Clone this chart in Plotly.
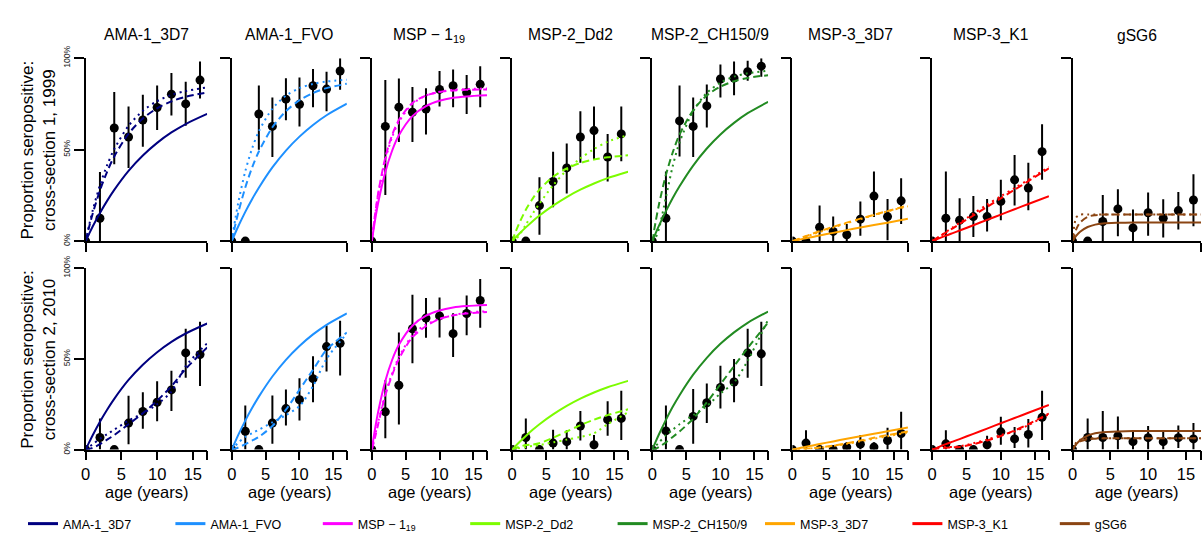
import plotly.graph_objects as go

# ---------------------------------------------------------------- data
PANEL_TITLES = ["AMA-1_3D7", "AMA-1_FVO", "MSP − 1<sub>19</sub>", "MSP-2_Dd2",
                "MSP-2_CH150/9", "MSP-3_3D7", "MSP-3_K1", "gSG6"]
LEGEND_NAMES = PANEL_TITLES
COLORS = ["#000080", "#1E90FF", "#FF00FF", "#7CFC00",
          "#228B22", "#FFA500", "#FF0000", "#8B4513"]
ROW_TITLES = ["Proportion seropositive:<br>cross-section 1, 1999",
              "Proportion seropositive:<br>cross-section 2, 2010"]

AGE = [0, 2, 4, 6, 8, 10, 12, 14, 16]
CURVE_AGE = [0, 0.5, 1, 2, 3, 4, 6, 8, 10, 12, 14, 17]

# observed seroprevalence by age group, cross-section 1 (one row per antigen)
CS1_PROP = [
    [0, 0.125, 0.618, 0.569, 0.662, 0.730, 0.803, 0.750, 0.880],
    [0, 0.000, 0.695, 0.627, 0.776, 0.748, 0.849, 0.831, 0.930],
    [0, 0.627, 0.732, 0.704, 0.722, 0.829, 0.849, 0.812, 0.857],
    [0, 0.000, 0.194, 0.326, 0.400, 0.569, 0.604, 0.460, 0.586],
    [0, 0.125, 0.657, 0.627, 0.739, 0.886, 0.891, 0.926, 0.956],
    [0, 0.000, 0.076, 0.053, 0.035, 0.120, 0.246, 0.134, 0.220],
    [0, 0.125, 0.114, 0.134, 0.134, 0.217, 0.335, 0.290, 0.489],
    [0, 0.000, 0.107, 0.176, 0.072, 0.155, 0.125, 0.167, 0.225],
]
CS1_LOW = [
    [0, 0.000, 0.420, 0.400, 0.516, 0.607, 0.687, 0.630, 0.780],
    [0, 0.000, 0.500, 0.460, 0.660, 0.627, 0.732, 0.710, 0.827],
    [0, 0.252, 0.542, 0.542, 0.583, 0.736, 0.732, 0.695, 0.732],
    [0, 0.000, 0.035, 0.185, 0.260, 0.428, 0.445, 0.326, 0.437],
    [0, 0.000, 0.463, 0.460, 0.621, 0.785, 0.797, 0.877, 0.898],
    [0, 0.000, 0.000, 0.000, 0.000, 0.030, 0.132, 0.005, 0.093],
    [0, 0.000, 0.000, 0.023, 0.053, 0.114, 0.195, 0.169, 0.336],
    [0, 0.000, 0.000, 0.026, 0.000, 0.030, 0.020, 0.063, 0.081],
]
CS1_HIGH = [
    [0, 0.378, 0.815, 0.736, 0.800, 0.850, 0.919, 0.871, 0.982],
    [0, 0.000, 0.850, 0.785, 0.890, 0.894, 0.940, 0.926, 1.000],
    [0, 0.880, 0.889, 0.842, 0.836, 0.930, 0.938, 0.908, 0.956],
    [0, 0.000, 0.349, 0.489, 0.533, 0.710, 0.736, 0.586, 0.736],
    [0, 0.380, 0.850, 0.785, 0.856, 0.965, 0.982, 0.986, 1.000],
    [0, 0.000, 0.194, 0.134, 0.093, 0.217, 0.380, 0.230, 0.343],
    [0, 0.380, 0.234, 0.246, 0.230, 0.336, 0.470, 0.428, 0.639],
    [0, 0.000, 0.252, 0.283, 0.173, 0.266, 0.229, 0.269, 0.366],
]

# observed seroprevalence by age group, cross-section 2
CS2_PROP = [
    [0, 0.067, 0.000, 0.146, 0.210, 0.261, 0.329, 0.533, 0.524],
    [0, 0.101, 0.000, 0.147, 0.226, 0.275, 0.391, 0.568, 0.586],
    [0, 0.208, 0.355, 0.666, 0.725, 0.737, 0.639, 0.750, 0.822],
    [0, 0.067, 0.000, 0.036, 0.044, 0.130, 0.027, 0.165, 0.172],
    [0, 0.103, 0.000, 0.183, 0.258, 0.343, 0.373, 0.533, 0.528],
    [0, 0.036, 0.000, 0.000, 0.014, 0.030, 0.014, 0.050, 0.089],
    [0, 0.032, 0.000, 0.000, 0.027, 0.098, 0.059, 0.083, 0.178],
    [0, 0.067, 0.067, 0.076, 0.044, 0.066, 0.044, 0.066, 0.059],
]
CS2_LOW = [
    [0, 0.000, 0.000, 0.030, 0.115, 0.156, 0.213, 0.396, 0.350],
    [0, 0.000, 0.000, 0.032, 0.133, 0.160, 0.261, 0.430, 0.409],
    [0, 0.062, 0.139, 0.476, 0.616, 0.618, 0.510, 0.630, 0.671],
    [0, 0.000, 0.000, 0.000, 0.000, 0.050, 0.000, 0.076, 0.053],
    [0, 0.000, 0.000, 0.032, 0.147, 0.226, 0.261, 0.396, 0.350],
    [0, 0.000, 0.000, 0.000, 0.000, 0.000, 0.000, 0.000, 0.000],
    [0, 0.000, 0.000, 0.000, 0.000, 0.027, 0.009, 0.012, 0.053],
    [0, 0.000, 0.000, 0.000, 0.000, 0.000, 0.000, 0.009, 0.000],
]
CS2_HIGH = [
    [0, 0.172, 0.000, 0.297, 0.316, 0.377, 0.435, 0.666, 0.705],
    [0, 0.243, 0.000, 0.298, 0.332, 0.394, 0.515, 0.684, 0.710],
    [0, 0.382, 0.645, 0.853, 0.835, 0.838, 0.751, 0.849, 0.941],
    [0, 0.172, 0.000, 0.110, 0.107, 0.213, 0.080, 0.266, 0.325],
    [0, 0.243, 0.000, 0.334, 0.364, 0.462, 0.500, 0.666, 0.705],
    [0, 0.107, 0.000, 0.000, 0.040, 0.080, 0.040, 0.121, 0.208],
    [0, 0.107, 0.000, 0.000, 0.076, 0.181, 0.124, 0.169, 0.325],
    [0, 0.172, 0.213, 0.183, 0.107, 0.130, 0.107, 0.133, 0.147],
]

# fitted seroconversion curves evaluated at CURVE_AGE
FIT_SOLID = [  # common reference fit, drawn in both cross-sections
    [0, 0.041, 0.081, 0.154, 0.220, 0.280, 0.384, 0.468, 0.537, 0.594, 0.640, 0.695],
    [0, 0.043, 0.084, 0.160, 0.229, 0.292, 0.403, 0.495, 0.571, 0.635, 0.688, 0.751],
    [0, 0.118, 0.219, 0.378, 0.494, 0.578, 0.683, 0.738, 0.767, 0.783, 0.791, 0.797],
    [0, 0.020, 0.039, 0.075, 0.109, 0.140, 0.194, 0.241, 0.281, 0.315, 0.344, 0.379],
    [0, 0.044, 0.086, 0.164, 0.236, 0.300, 0.413, 0.506, 0.583, 0.646, 0.699, 0.761],
    [0, 0.004, 0.008, 0.016, 0.023, 0.031, 0.045, 0.060, 0.074, 0.088, 0.101, 0.122],
    [0, 0.007, 0.015, 0.030, 0.044, 0.058, 0.087, 0.116, 0.145, 0.174, 0.203, 0.246],
    [0, 0.030, 0.051, 0.077, 0.090, 0.096, 0.100, 0.102, 0.102, 0.102, 0.102, 0.102],
]
CS1_DASHED = [
    [0, 0.080, 0.152, 0.277, 0.379, 0.463, 0.587, 0.670, 0.726, 0.764, 0.789, 0.812],
    [0, 0.085, 0.161, 0.293, 0.402, 0.490, 0.622, 0.710, 0.770, 0.809, 0.836, 0.860],
    [0, 0.150, 0.274, 0.457, 0.580, 0.662, 0.755, 0.796, 0.815, 0.823, 0.827, 0.829],
    [0, 0.050, 0.095, 0.171, 0.232, 0.281, 0.352, 0.397, 0.427, 0.446, 0.458, 0.469],
    [0, 0.108, 0.204, 0.362, 0.485, 0.582, 0.715, 0.796, 0.844, 0.874, 0.892, 0.907],
    [0, 0.007, 0.014, 0.028, 0.041, 0.054, 0.078, 0.101, 0.123, 0.144, 0.164, 0.195],
    [0, 0.012, 0.023, 0.047, 0.070, 0.094, 0.140, 0.187, 0.234, 0.281, 0.328, 0.398],
    [0, 0.066, 0.102, 0.133, 0.142, 0.145, 0.146, 0.146, 0.146, 0.146, 0.146, 0.146],
]
CS1_DOTTED = [
    [0, 0.090, 0.170, 0.306, 0.415, 0.503, 0.630, 0.712, 0.765, 0.799, 0.820, 0.840],
    [0, 0.116, 0.217, 0.382, 0.506, 0.600, 0.724, 0.795, 0.836, 0.859, 0.872, 0.882],
    [0, 0.144, 0.264, 0.444, 0.568, 0.652, 0.750, 0.795, 0.816, 0.826, 0.831, 0.834],
    [0, 0.010, 0.030, 0.090, 0.150, 0.205, 0.305, 0.388, 0.452, 0.503, 0.543, 0.580],
    [0, 0.020, 0.070, 0.240, 0.410, 0.540, 0.710, 0.810, 0.866, 0.899, 0.917, 0.932],
    [0, 0.006, 0.012, 0.025, 0.037, 0.050, 0.074, 0.098, 0.120, 0.142, 0.163, 0.190],
    [0, 0.012, 0.024, 0.050, 0.075, 0.100, 0.150, 0.200, 0.245, 0.290, 0.335, 0.405],
    [0, 0.130, 0.145, 0.146, 0.146, 0.146, 0.146, 0.146, 0.146, 0.146, 0.146, 0.146],
]
CS2_DASHED = [
    [0, 0.004, 0.010, 0.030, 0.055, 0.080, 0.140, 0.200, 0.270, 0.350, 0.445, 0.563],
    [0, 0.005, 0.012, 0.030, 0.050, 0.070, 0.130, 0.220, 0.330, 0.440, 0.550, 0.645],
    [0, 0.070, 0.150, 0.300, 0.410, 0.500, 0.620, 0.680, 0.720, 0.740, 0.750, 0.758],
    [0, 0.008, 0.015, 0.025, 0.028, 0.035, 0.065, 0.100, 0.135, 0.165, 0.190, 0.222],
    [0, 0.005, 0.015, 0.040, 0.070, 0.100, 0.170, 0.260, 0.360, 0.460, 0.560, 0.700],
    [0, 0.000, 0.002, 0.005, 0.008, 0.012, 0.022, 0.035, 0.050, 0.065, 0.080, 0.100],
    [0, 0.003, 0.006, 0.010, 0.012, 0.015, 0.030, 0.050, 0.075, 0.105, 0.140, 0.199],
    [0, 0.030, 0.045, 0.057, 0.060, 0.062, 0.062, 0.062, 0.062, 0.062, 0.062, 0.062],
]
CS2_DOTTED = [
    [0, 0.015, 0.030, 0.060, 0.085, 0.110, 0.160, 0.200, 0.250, 0.320, 0.460, 0.586],
    [0, 0.020, 0.040, 0.070, 0.090, 0.110, 0.150, 0.190, 0.240, 0.350, 0.500, 0.640],
    [0, 0.080, 0.160, 0.310, 0.420, 0.510, 0.630, 0.690, 0.720, 0.740, 0.755, 0.762],
    [0, 0.004, 0.008, 0.015, 0.020, 0.025, 0.040, 0.055, 0.070, 0.090, 0.140, 0.205],
    [0, 0.020, 0.040, 0.080, 0.110, 0.140, 0.190, 0.240, 0.310, 0.370, 0.490, 0.716],
    [0, 0.000, 0.001, 0.004, 0.007, 0.010, 0.020, 0.032, 0.046, 0.060, 0.074, 0.095],
    [0, 0.006, 0.012, 0.015, 0.015, 0.018, 0.035, 0.055, 0.080, 0.100, 0.135, 0.195],
    [0, 0.040, 0.055, 0.062, 0.063, 0.063, 0.063, 0.063, 0.063, 0.063, 0.063, 0.063],
]

# ---------------------------------------------------------------- layout
W, H = 1203, 539
FONT = "Liberation Sans, Arial, sans-serif"
PANEL_LEFT = [81, 227.7, 368.3, 509.3, 650, 790.7, 931, 1072]
PANEL_RIGHT = [203, 343.3, 484, 625.7, 766.3, 906.7, 1048.3, 1201]
ROW_BOTTOM = [236, 451.7]
ROW_TOP = [46.7, 264]
LINE_W = 1.6
TICK_STYLE = dict(ticks="outside", tickwidth=LINE_W, tickcolor="black")

SURVEYS = [
    (CS1_PROP, CS1_LOW, CS1_HIGH, CS1_DASHED, CS1_DOTTED),
    (CS2_PROP, CS2_LOW, CS2_HIGH, CS2_DASHED, CS2_DOTTED),
]

fig = go.Figure()
layout_axes = {}
annotations = []

for row, (prop_t, low_t, high_t, dash_t, dot_t) in enumerate(SURVEYS):
    for col in range(8):
        n = row * 8 + col + 1
        xname = "x" if n == 1 else f"x{n}"
        yname = "y" if n == 1 else f"y{n}"
        color = COLORS[col]
        prop, low, high = prop_t[col], low_t[col], high_t[col]

        # observed proportions with confidence intervals
        fig.add_trace(go.Scatter(
            x=AGE, y=prop, mode="markers",
            marker=dict(size=9, color="black", line=dict(width=0)),
            error_y=dict(type="data", symmetric=False,
                         array=[h - p for h, p in zip(high, prop)],
                         arrayminus=[p - l for p, l in zip(prop, low)],
                         color="black", thickness=2, width=0),
            xaxis=xname, yaxis=yname, showlegend=False, hoverinfo="skip"))

        # fitted curves: reference (solid), dashed and dotted alternatives
        for curve, dash in ((FIT_SOLID[col], "solid"),
                            (dash_t[col], "7px,4px"),
                            (dot_t[col], "2px,4px")):
            fig.add_trace(go.Scatter(
                x=CURVE_AGE, y=curve, mode="lines",
                line=dict(color=color, width=2, dash=dash,
                          shape="spline", smoothing=0.8),
                xaxis=xname, yaxis=yname, showlegend=False, hoverinfo="skip"))

        bottom_row = row == 1
        xaxis = dict(
            domain=[PANEL_LEFT[col] / W, PANEL_RIGHT[col] / W],
            anchor=yname, range=[0, 17],
            showline=True, linecolor="black", linewidth=LINE_W,
            showgrid=False, zeroline=False,
            ticklen=9, tickangle=0, **TICK_STYLE,
            tickfont=dict(family=FONT, size=16.5, color="black"),
            fixedrange=True)
        if bottom_row:
            xaxis.update(tickmode="array", tickvals=[0, 5, 10, 15],
                         showticklabels=True,
                         minor=dict(tickmode="array", tickvals=[17], ticklen=9,
                                    showgrid=False, **TICK_STYLE))
        else:
            xaxis.update(tickmode="array", tickvals=[0, 17], showticklabels=False)
        layout_axes["xaxis" if n == 1 else f"xaxis{n}"] = xaxis

        first_col = col == 0
        yaxis = dict(
            domain=[1 - ROW_BOTTOM[row] / H, 1 - ROW_TOP[row] / H],
            anchor=xname, range=[0, 1],
            showline=True, linecolor="black", linewidth=LINE_W,
            showgrid=False, zeroline=False,
            ticklen=10, **TICK_STYLE,
            fixedrange=True)
        if first_col:
            yaxis.update(tickmode="array", tickvals=[0, 0.5, 1],
                         ticktext=["0%", "50%", "100%"], showticklabels=True,
                         tickangle=-90,
                         tickfont=dict(family=FONT, size=8.5, color="#222222"))
        else:
            yaxis.update(tickmode="array", tickvals=[0, 1], showticklabels=False)
        layout_axes["yaxis" if n == 1 else f"yaxis{n}"] = yaxis

        if row == 0:
            annotations.append(dict(
                text=PANEL_TITLES[col], xref="paper", yref="paper",
                x=(PANEL_LEFT[col] + PANEL_RIGHT[col]) / 2 / W,
                y=1 - 23 / H, xanchor="center", yanchor="middle",
                showarrow=False, font=dict(family=FONT, size=15.6, color="black")))
        else:
            annotations.append(dict(
                text="age (years)", xref="paper", yref="paper",
                x=(PANEL_LEFT[col] + PANEL_RIGHT[col]) / 2 / W,
                y=1 - 496 / H, xanchor="center", yanchor="middle",
                showarrow=False, font=dict(family=FONT, size=16.5, color="black")))

    annotations.append(dict(
        text=ROW_TITLES[row], xref="paper", yref="paper",
        x=34 / W, y=1 - (ROW_BOTTOM[row] + ROW_TOP[row]) / 2 / H,
        xanchor="center", yanchor="middle", textangle=-90,
        showarrow=False, font=dict(family=FONT, size=17, color="black")))

# legend entries, one per antigen
for name, color in zip(LEGEND_NAMES, COLORS):
    fig.add_trace(go.Scatter(
        x=[None], y=[None], mode="lines", name=name,
        line=dict(color=color, width=3), hoverinfo="skip"))

fig.update_layout(
    width=W, height=H,
    margin=dict(l=0, r=0, t=0, b=0),
    paper_bgcolor="white", plot_bgcolor="white",
    font=dict(family=FONT, color="black"),
    showlegend=True,
    legend=dict(orientation="h", x=22 / W, y=1 - 529 / H,
                xanchor="left", yanchor="middle",
                entrywidth=102.4, entrywidthmode="pixels",
                itemwidth=30, traceorder="normal",
                font=dict(family=FONT, size=12.5, color="black"),
                bgcolor="rgba(0,0,0,0)"),
    annotations=annotations,
    **layout_axes,
)

fig.write_html("out.html")
